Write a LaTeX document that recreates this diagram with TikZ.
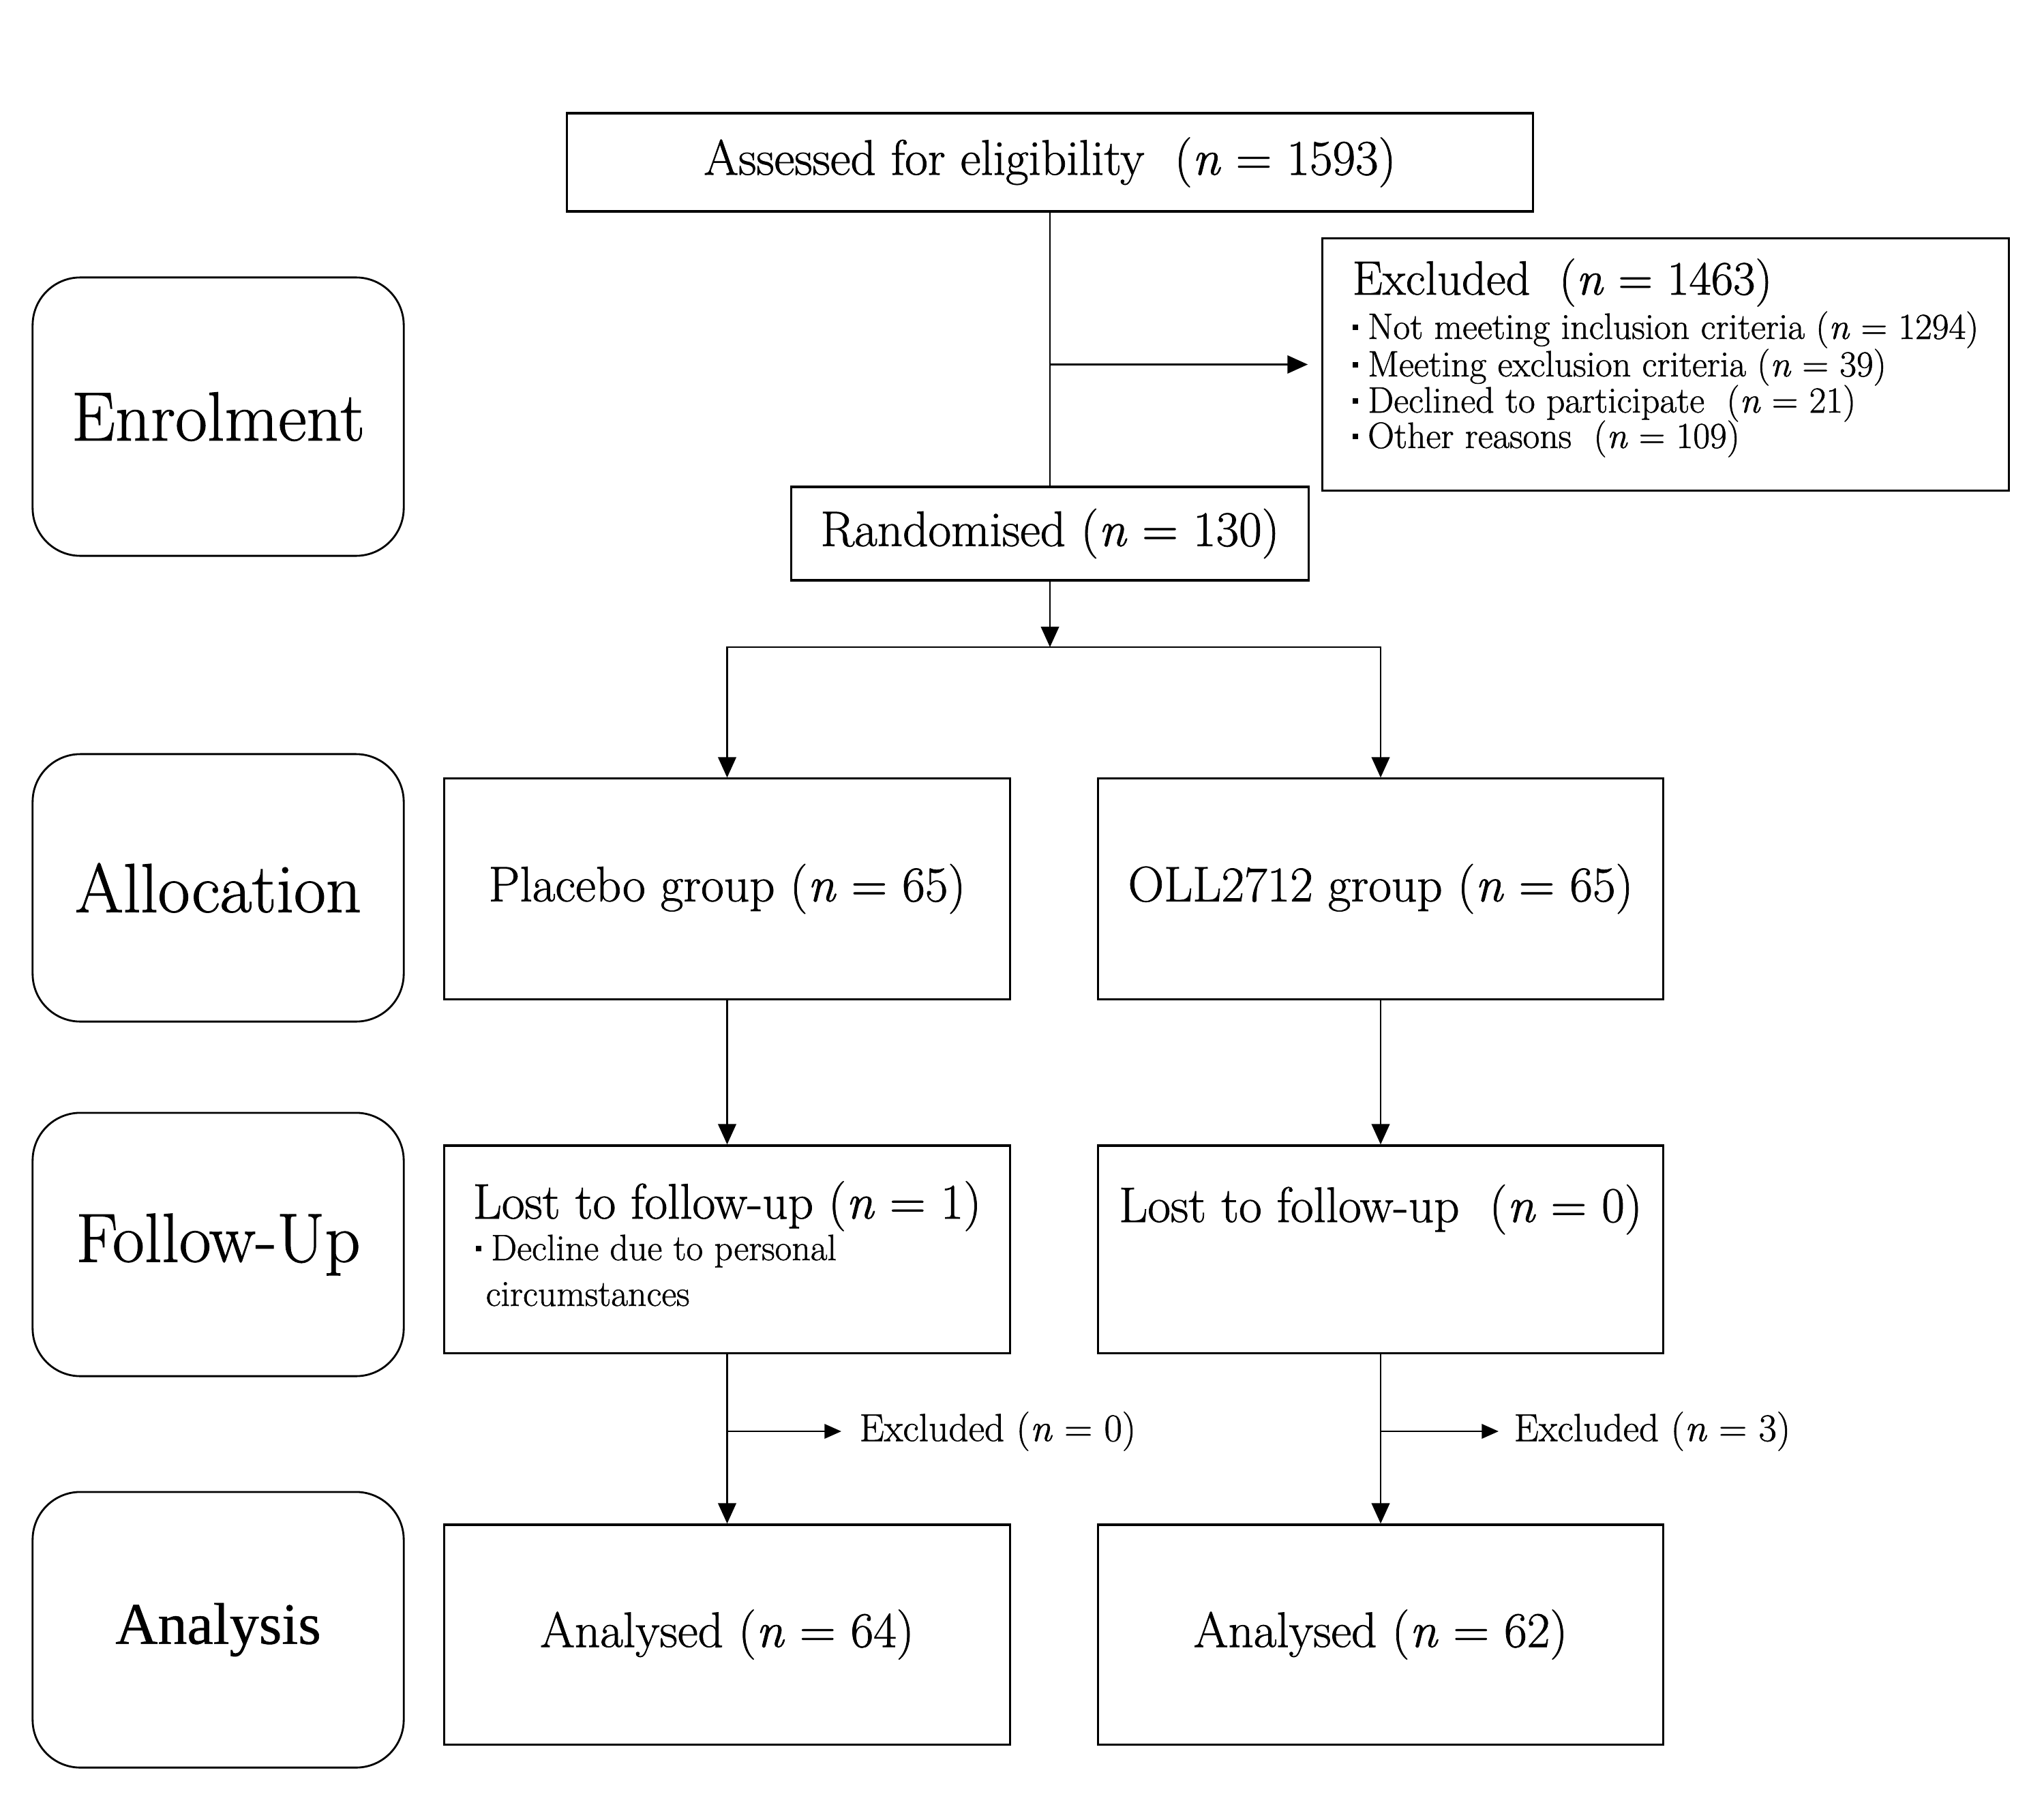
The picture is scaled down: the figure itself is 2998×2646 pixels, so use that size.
\documentclass[tikz,border=0pt]{standalone}
\usepackage{fontspec}
\setmainfont{Latin Modern Roman}[FakeBold=1.0]
\newfontfamily\timesfont{Liberation Serif}[FakeBold=0.6]
\usetikzlibrary{arrows.meta}
\newcommand{\mainf}{\fontsize{20.8pt}{24pt}\selectfont}
\newcommand{\stagef}{\fontsize{29pt}{33pt}\selectfont}
\newcommand{\subf}{\fontsize{15.3pt}{17pt}\selectfont}
\newcommand{\sidef}{\fontsize{16.3pt}{19pt}\selectfont}
\newcommand{\headf}{\fontsize{20pt}{23pt}\selectfont}
\newcommand{\sqbul}{\rule[0.24em]{2.4pt}{2.4pt}\hspace{4pt}}
\begin{document}
\begin{tikzpicture}[x=0.01cm,y=-0.01cm,
  box/.style={draw, line width=0.9pt, rectangle, inner sep=0pt, align=center},
  stage/.style={draw, line width=0.8pt, rounded corners=0.7cm, minimum width=5.44cm, inner sep=0pt},
  conn/.style={line width=0.8pt},
  arr/.style={conn, -{Triangle[length=8.5pt,width=7.5pt]}},
  sarr/.style={conn, -{Triangle[length=7pt,width=6pt]}},
  txt/.style={inner sep=0pt}]
\fill[white] (0,0) rectangle (2998,2646);
% stage labels
\node[stage, minimum height=4.08cm, font=\stagef] (sEnr) at (320,611) {Enrolment};
\node[stage, minimum height=3.92cm, font=\stagef] (sAll) at (320,1302) {Allocation};
\node[stage, minimum height=3.86cm, font=\stagef] (sFol) at (320,1825) {Follow-Up};
\node[stage, minimum height=4.04cm, font=\timesfont\fontsize{24.5pt}{28pt}\selectfont] (sAna) at (320,2390) {Analysis};
% enrolment
\node[box, minimum width=14.16cm, minimum height=1.44cm, font=\mainf] (assess) at (1540,238) {Assessed for eligibility\ \ (\textit{n} = 1593)};
\node[box, minimum width=10.06cm, minimum height=3.69cm] (excl) at (2443,534.5) {};
\node[txt, anchor=base west, font=\headf] (exh) at (1983,432) {Excluded\ \ (\textit{n} = 1463)};
\node[txt, anchor=base west, font=\subf] (ex1) at (1983,497) {\sqbul Not meeting inclusion criteria (\textit{n} = 1294)};
\node[txt, anchor=base west, font=\subf] (ex2) at (1983,552) {\sqbul Meeting exclusion criteria (\textit{n} = 39)};
\node[txt, anchor=base west, font=\subf] (ex3) at (1983,605) {\sqbul Declined to participate\ \ (\textit{n} = 21)};
\node[txt, anchor=base west, font=\subf] (ex4) at (1983,657) {\sqbul Other reasons\ \ (\textit{n} = 109)};
\node[box, minimum width=7.58cm, minimum height=1.37cm, font=\mainf] (rand) at (1540,782.5) {Randomised (\textit{n} = 130)};
\coordinate (split) at (1540,949);
% allocation
\node[box, minimum width=8.29cm, minimum height=3.23cm, font=\mainf] (plac) at (1066.5,1303.5) {Placebo group (\textit{n} = 65)};
\node[box, minimum width=8.28cm, minimum height=3.23cm, font=\mainf] (oll) at (2025,1303.5) {OLL2712 group (\textit{n} = 65)};
% follow-up
\node[box, minimum width=8.29cm, minimum height=3.04cm] (fu1) at (1066.5,1832) {};
\node[txt, anchor=base, font=\mainf] (lost1) at (1066.5,1787) {Lost to follow-up (\textit{n} = 1)};
\node[txt, anchor=base west, font=\subf] (dec1) at (697,1848) {\sqbul Decline due to personal};
\node[txt, anchor=base west, font=\subf] (dec2) at (712,1915) {circumstances};
\node[box, minimum width=8.28cm, minimum height=3.04cm] (fu2) at (2025,1832) {};
\node[txt, anchor=base, font=\mainf] (lost0) at (2025,1792) {Lost to follow-up\ \ (\textit{n} = 0)};
% analysis
\node[box, minimum width=8.29cm, minimum height=3.22cm, font=\mainf] (an1) at (1066.5,2397) {Analysed (\textit{n} = 64)};
\node[box, minimum width=8.28cm, minimum height=3.22cm, font=\mainf] (an2) at (2025,2397) {Analysed (\textit{n} = 62)};
\node[txt, anchor=west, font=\sidef] (exc0) at (1260,2099) {Excluded (\textit{n} = 0)};
\node[txt, anchor=west, font=\sidef] (exc3) at (2220,2099) {Excluded (\textit{n} = 3)};
% connectors
\draw[conn] (assess.south) -- (rand.north);
\draw[arr, shorten >=0.2cm] (assess.south |- excl.west) -- (excl.west);
\draw[arr] (rand.south) -- (split);
\draw[arr] (split) -| (plac.north);
\draw[arr] (split) -| (oll.north);
\draw[arr] (plac.south) -- (fu1.north);
\draw[arr] (oll.south) -- (fu2.north);
\draw[arr] (fu1.south) -- (an1.north);
\draw[arr] (fu2.south) -- (an2.north);
\draw[sarr, shorten >=0.26cm] (fu1.south |- exc0.west) -- (exc0.west);
\draw[sarr, shorten >=0.22cm] (fu2.south |- exc3.west) -- (exc3.west);
\end{tikzpicture}
\end{document}
